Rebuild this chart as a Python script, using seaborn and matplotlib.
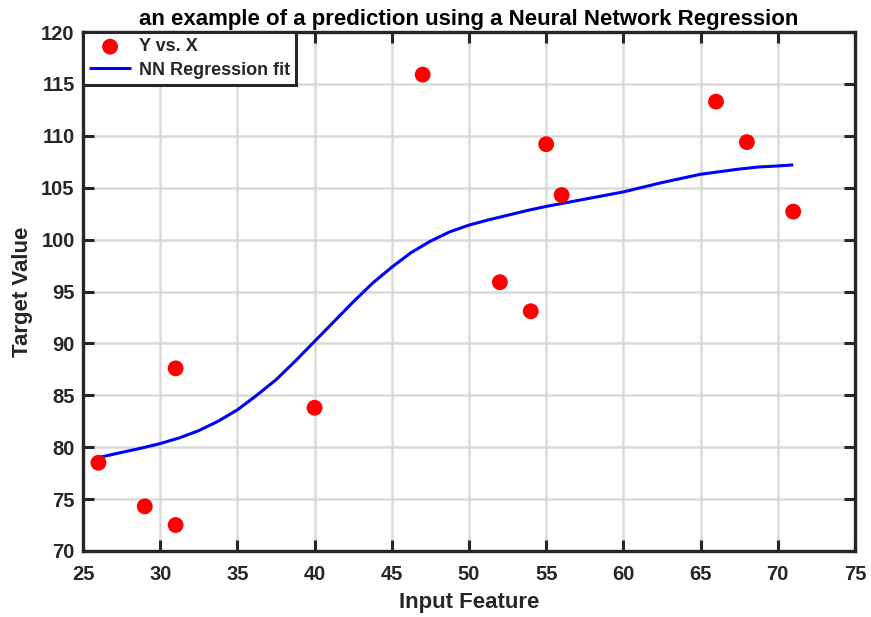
import matplotlib
matplotlib.use("Agg")
import matplotlib.pyplot as plt
import seaborn as sns
import pandas as pd

# Observed samples
x_obs = [26, 29, 31, 31, 40, 47, 52, 54, 55, 56, 66, 68, 71]
y_obs = [78.5, 74.3, 72.5, 87.6, 83.8, 115.9, 95.9, 93.1, 109.2, 104.3, 113.3, 109.4, 102.7]

# Network prediction along the input range
x_fit = [26, 27.5, 28.75, 30, 31.25, 32.5, 33.75, 35, 36.25, 37.5, 38.75, 40, 41.25,
         42.5, 43.75, 45, 46.25, 47.5, 48.75, 50, 51.25, 52.5, 53.75, 55, 56.25, 57.5,
         58.75, 60, 61.25, 62.5, 63.75, 65, 66.25, 67.5, 68.75, 70, 71]
y_fit = [79.0, 79.5, 79.9, 80.35, 80.9, 81.6, 82.5, 83.6, 85.0, 86.5, 88.3, 90.2, 92.1,
         94.0, 95.8, 97.35, 98.75, 99.85, 100.75, 101.4, 101.9, 102.35, 102.8, 103.2, 103.55, 103.9,
         104.25, 104.6, 105.05, 105.5, 105.9, 106.3, 106.55, 106.8, 107.0, 107.1, 107.2]

x_ticks = list(range(25, 80, 5))
y_ticks = list(range(70, 125, 5))

sns.set_theme(style="whitegrid")
plt.rcParams["font.family"] = ["Liberation Sans", "DejaVu Sans"]
plt.rcParams["font.weight"] = "bold"
plt.rcParams["lines.solid_capstyle"] = "butt"

fig = plt.figure(figsize=(8.71, 6.17), dpi=100)
ax = fig.add_axes([0.0953, 0.107, 0.8863, 0.841])

obs = pd.DataFrame({"x": x_obs, "y": y_obs})
fit = pd.DataFrame({"x": x_fit, "y": y_fit})

sns.lineplot(data=fit, x="x", y="y", ax=ax, color="#0000ff", linewidth=2.2,
             label="NN Regression fit", zorder=3, sort=False)
sns.scatterplot(data=obs, x="x", y="y", ax=ax, color="#ff0000", s=130,
                edgecolor="none", label="Y vs. X", zorder=4)

ax.set_xlim(25, 75)
ax.set_ylim(70, 120)
ax.set_xticks(x_ticks)
ax.set_yticks(y_ticks)

ax.grid(True, color="#d6d6d6", linewidth=1.8, alpha=0.9)
ax.set_facecolor("white")
for sp in ax.spines.values():
    sp.set_color("#262626")
    sp.set_linewidth(2.4)
    sp.set_visible(True)

ax.tick_params(axis="both", which="both", direction="in", length=8, width=2.2,
               color="#262626", top=True, right=True, bottom=True, left=True,
               labelsize=14.5, labelcolor="#262626")
ax.tick_params(axis="x", pad=10)
ax.tick_params(axis="y", pad=6)
for lab in ax.get_xticklabels() + ax.get_yticklabels():
    lab.set_fontweight("bold")

ax.set_xlabel("Input Feature", fontsize=16, fontweight="bold", color="#262626", labelpad=6)
ax.set_ylabel("Target Value", fontsize=16, fontweight="bold", color="#262626", labelpad=6)
ax.set_title("an example of a prediction using a Neural Network Regression",
             fontsize=16, fontweight="bold", color="black", pad=5)

handles, labels = ax.get_legend_handles_labels()
order = [labels.index("Y vs. X"), labels.index("NN Regression fit")]
leg = ax.legend([handles[i] for i in order], [labels[i] for i in order],
                loc="upper left", bbox_to_anchor=(0.0, 1.0), frameon=True,
                fancybox=False, framealpha=1, edgecolor="#262626",
                borderaxespad=0, handlelength=2.3, handletextpad=0.45,
                borderpad=0.35, labelspacing=0.35,
                prop={"weight": "bold", "size": 13})
leg.get_frame().set_linewidth(2.2)

fig.savefig("out.png", dpi=100)
